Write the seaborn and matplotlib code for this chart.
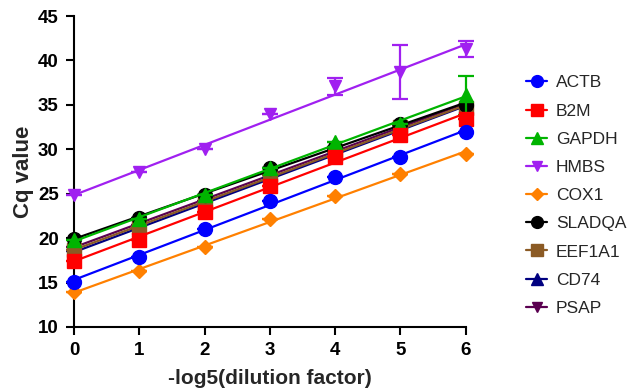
import numpy as np
import pandas as pd
import matplotlib
matplotlib.use("Agg")
import matplotlib.pyplot as plt
from matplotlib.lines import Line2D
import seaborn as sns

# dilution steps
dilution = [0, 1, 2, 3, 4, 5, 6]

genes = ["ACTB", "B2M", "GAPDH", "HMBS", "COX1", "SLADQA", "EEF1A1", "CD74", "PSAP"]

# mean Cq per gene
actb = [15.1, 17.9, 21.0, 24.2, 26.9, 29.1, 31.9]
b2m = [17.4, 19.8, 22.9, 25.9, 29.1, 31.6, 33.4]
gapdh = [19.8, 22.2, 24.9, 27.9, 30.8, 32.9, 36.1]
hmbs = [24.8, 27.4, 30.0, 34.0, 37.1, 38.7, 41.3]
cox1 = [13.9, 16.3, 19.0, 22.1, 24.7, 27.2, 29.5]
sladqa = [19.9, 22.3, 24.9, 27.9, 30.3, 32.8, 35.0]
eef1a1 = [18.7, 21.2, 24.0, 27.1, 29.7, 32.5, 34.6]
cd74 = [18.5, 21.0, 23.8, 26.8, 29.5, 32.3, 34.7]
psap = [19.0, 21.5, 24.2, 27.3, 30.0, 32.6, 34.9]

# standard deviations (only visible where larger than marker)
sd_hmbs = [0, 0, 0, 0, 0.95, 3.05, 0.9]
sd_gapdh = [0, 0, 0, 0, 0, 0, 2.2]
sd_zero = [0, 0, 0, 0, 0, 0, 0]

means = [actb, b2m, gapdh, hmbs, cox1, sladqa, eef1a1, cd74, psap]
sds = [sd_zero, sd_zero, sd_gapdh, sd_hmbs, sd_zero, sd_zero, sd_zero, sd_zero, sd_zero]

colors = ["#0000FF", "#FF0000", "#00B400", "#A020F0", "#FF8000",
          "#000000", "#8B5A24", "#000080", "#5A0050"]
markers = ["o", "s", "^", "v", "D", "o", "s", "^", "v"]
msizes = [10, 10, 10, 9, 7, 10, 10, 10, 9]

sns.set_style("ticks")
plt.rcParams["font.family"] = ["Liberation Sans", "DejaVu Sans"]

fig = plt.figure(figsize=(6.32, 3.92), dpi=100)
ax = fig.add_axes([0.117, 0.166, 0.62, 0.793])

handles = []
n = len(genes)
for i in range(n):
    z = 10 + (n - i) * 2
    df = pd.DataFrame({"x": dilution, "y": means[i]})
    sns.regplot(data=df, x="x", y="y", ax=ax, scatter=False, ci=None,
                truncate=True, color=colors[i],
                line_kws={"lw": 1.6, "zorder": z})
    eb = ax.errorbar(dilution, means[i], yerr=sds[i], fmt="none",
                     ecolor=colors[i], elinewidth=1.6, capsize=6,
                     capthick=1.6, zorder=z + 1)
    for part in eb.lines[1] + eb.lines[2]:
        part.set_clip_on(False)
    ax.plot(dilution, means[i], linestyle="none", marker=markers[i],
            ms=msizes[i], color=colors[i], zorder=z + 1, clip_on=False)
    handles.append(Line2D([], [], color=colors[i], lw=1.6,
                          marker=markers[i], ms=msizes[i] * 0.85,
                          label=genes[i]))

ax.set_xlim(0, 6)
ax.set_ylim(10, 45)
ax.set_xticks(dilution)
ax.set_yticks([10, 15, 20, 25, 30, 35, 40, 45])
ax.set_xlabel("-log5(dilution factor)", fontsize=15, fontweight="bold", labelpad=7)
ax.set_ylabel("Cq value", fontsize=16, fontweight="bold", labelpad=3)
ax.tick_params(axis="both", labelsize=13.5, width=1.5, length=6,
               direction="out", colors="black", pad=5)
for lab in ax.get_xticklabels() + ax.get_yticklabels():
    lab.set_fontweight("bold")
sns.despine(ax=ax)
for s in ["left", "bottom"]:
    ax.spines[s].set_linewidth(1.5)
    ax.spines[s].set_color("black")

fig.legend(handles=handles, loc="upper left", bbox_to_anchor=(0.818, 0.83),
           frameon=False, fontsize=12.5, handlelength=1.25, borderpad=0,
           labelspacing=0.75, handletextpad=0.5)

fig.savefig("out.png", dpi=100)
